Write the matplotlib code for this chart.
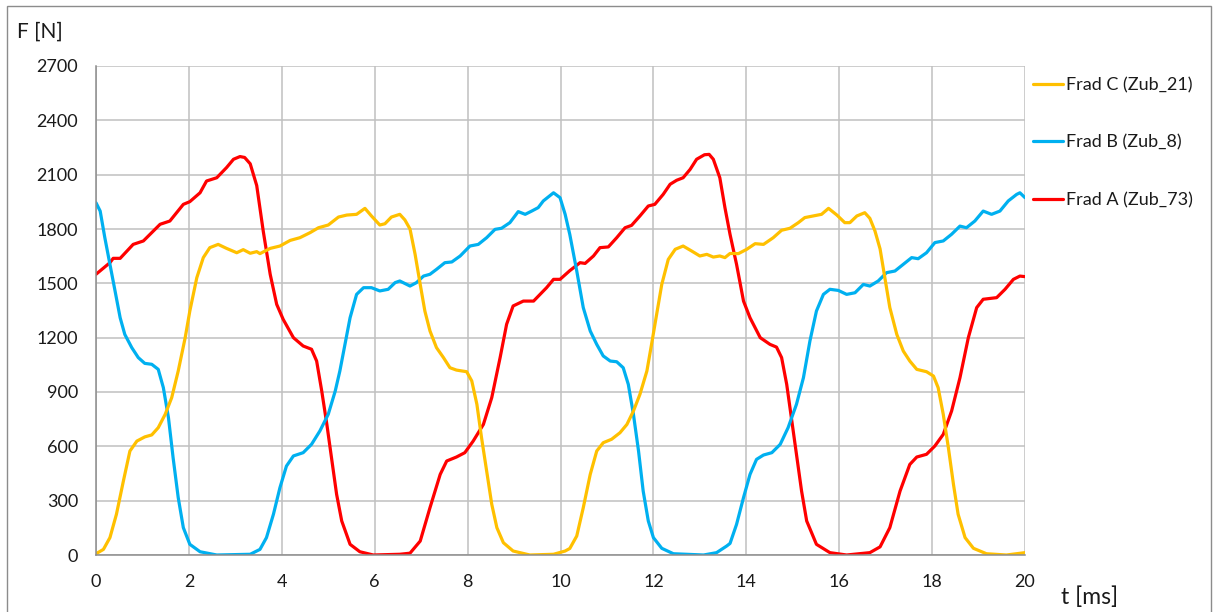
import matplotlib
matplotlib.use("Agg")
import matplotlib.pyplot as plt
from matplotlib.patches import Rectangle

plt.rcParams['font.family'] = ['Lato', 'DejaVu Sans']

# ---- data ----
t_A = [0.0, 0.3, 0.37, 0.52, 0.8, 1.02, 1.38, 1.59, 1.88, 2.02, 2.24, 2.38, 2.6, 2.81, 2.96, 3.1, 3.2,
       3.32, 3.46, 3.6, 3.75, 3.89, 4.03, 4.25, 4.46, 4.64, 4.75, 4.86, 4.97, 5.07, 5.18, 5.29, 5.47,
       5.68, 5.97, 6.54, 6.76, 6.98, 7.19, 7.41, 7.55, 7.76, 7.94, 8.12, 8.34, 8.52, 8.70, 8.84, 8.98,
       9.2, 9.42, 9.56, 9.70, 9.85, 9.99, 10.2, 10.42, 10.53, 10.71, 10.85, 11.03, 11.21, 11.39, 11.53,
       11.71, 11.89, 12.03, 12.21, 12.36, 12.5, 12.64, 12.79, 12.93, 13.1, 13.2, 13.29, 13.43, 13.54,
       13.65, 13.79, 13.94, 14.08, 14.3, 14.51, 14.65, 14.76, 14.87, 14.98, 15.08, 15.19, 15.3, 15.51,
       15.8, 16.16, 16.66, 16.88, 17.09, 17.31, 17.52, 17.67, 17.88, 18.06, 18.24, 18.42, 18.6, 18.78,
       18.96, 19.1, 19.39, 19.57, 19.75, 19.89, 20.0]
F_A = [1550, 1614, 1638, 1638, 1715, 1734, 1826, 1844, 1936, 1951, 2000, 2065, 2083, 2139, 2185, 2200, 2195,
       2160, 2040, 1789, 1550, 1384, 1301, 1200, 1154, 1136, 1071, 905, 721, 537, 335, 188, 59,
       18, 0, 4, 10, 77, 261, 445, 519, 541, 565, 629, 721, 869, 1090, 1274, 1375,
       1402, 1402, 1439, 1476, 1522, 1522, 1570, 1614, 1610, 1651, 1697, 1701, 1752, 1807, 1820,
       1872, 1927, 1936, 1991, 2047, 2069, 2083, 2129, 2185, 2210, 2212, 2185, 2083, 1918,
       1770, 1605, 1402, 1310, 1200, 1163, 1148, 1090, 942, 740, 556, 353, 188, 59,
       13, 0, 13, 45, 151, 353, 500, 541, 556, 602, 666, 795, 979, 1200,
       1366, 1412, 1421, 1467, 1522, 1540, 1537]

t_B = [0.0, 0.09, 0.19, 0.3, 0.41, 0.52, 0.62, 0.77, 0.91, 1.05, 1.2, 1.34, 1.45, 1.56, 1.66, 1.77, 1.88,
       2.02, 2.24, 2.6, 3.32, 3.53, 3.67, 3.82, 3.96, 4.1, 4.25, 4.46, 4.64, 4.82, 5.0, 5.15, 5.25, 5.36,
       5.47, 5.61, 5.76, 5.93, 6.11, 6.29, 6.44, 6.54, 6.69, 6.76, 6.9, 7.05, 7.19, 7.33, 7.51, 7.66,
       7.84, 8.05, 8.23, 8.41, 8.59, 8.73, 8.91, 9.09, 9.24, 9.38, 9.52, 9.63, 9.85, 9.99, 10.1, 10.2,
       10.35, 10.49, 10.64, 10.78, 10.92, 11.07, 11.21, 11.35, 11.46, 11.57, 11.68, 11.78, 11.89, 12.0,
       12.18, 12.43, 13.08, 13.36, 13.58, 13.65, 13.79, 13.94, 14.08, 14.22, 14.37, 14.55, 14.73, 14.9,
       15.08, 15.23, 15.37, 15.51, 15.66, 15.8, 15.98, 16.16, 16.34, 16.52, 16.66, 16.84, 17.02, 17.2,
       17.38, 17.56, 17.7, 17.88, 18.06, 18.24, 18.42, 18.6, 18.74, 18.92, 19.1, 19.28, 19.46, 19.64,
       19.82, 19.89, 20.0]
F_B = [1945, 1899, 1752, 1605, 1458, 1310, 1218, 1145, 1090, 1058, 1053, 1025, 924, 758, 537, 317, 151,
       59, 18, 0, 4, 31, 96, 225, 372, 491, 547, 565, 611, 685, 777, 905, 1016, 1163,
       1310, 1439, 1476, 1476, 1458, 1467, 1504, 1513, 1494, 1485, 1504, 1540, 1550, 1577, 1614, 1618,
       1651, 1706, 1715, 1752, 1798, 1804, 1835, 1896, 1881, 1899, 1918, 1955, 2000, 1973, 1881, 1770,
       1568, 1366, 1237, 1163, 1099, 1071, 1067, 1034, 942, 777, 574, 353, 188, 96,
       37, 7, 0, 13, 50, 64, 169, 317, 445, 528, 552, 565, 611, 703,
       832, 979, 1182, 1347, 1439, 1467, 1461, 1439, 1448, 1494, 1485, 1513, 1559, 1568,
       1605, 1642, 1636, 1669, 1725, 1734, 1771, 1816, 1807, 1844, 1899, 1881, 1899, 1955,
       1991, 2000, 1973]

t_C = [0.0, 0.16, 0.3, 0.44, 0.59, 0.73, 0.88, 1.05, 1.2, 1.34, 1.49, 1.63, 1.77, 1.92, 2.02, 2.17, 2.31,
       2.45, 2.63, 2.81, 3.03, 3.17, 3.32, 3.46, 3.53, 3.75, 3.96, 4.18, 4.39, 4.61, 4.79, 5.0, 5.22,
       5.4, 5.61, 5.79, 5.93, 6.11, 6.22, 6.36, 6.54, 6.65, 6.76, 6.87, 6.98, 7.08, 7.19, 7.33, 7.48,
       7.62, 7.76, 7.98, 8.09, 8.2, 8.30, 8.41, 8.52, 8.63, 8.77, 8.98, 9.34, 9.85, 10.1, 10.2, 10.35,
       10.49, 10.64, 10.78, 10.92, 11.1, 11.28, 11.43, 11.57, 11.71, 11.86, 11.96, 12.07, 12.18, 12.32,
       12.47, 12.64, 12.82, 13.0, 13.15, 13.29, 13.43, 13.54, 13.65, 13.83, 14.01, 14.19, 14.37, 14.58,
       14.76, 14.94, 15.12, 15.26, 15.44, 15.62, 15.77, 15.95, 16.12, 16.23, 16.38, 16.55, 16.66, 16.77,
       16.88, 16.99, 17.09, 17.24, 17.38, 17.52, 17.67, 17.88, 18.03, 18.13, 18.24, 18.35, 18.46, 18.56,
       18.71, 18.89, 19.17, 19.6, 20.0]
F_C = [7, 31, 96, 225, 409, 574, 629, 652, 663, 703, 777, 869, 1016, 1200, 1347, 1531, 1642,
       1697, 1715, 1693, 1669, 1686, 1666, 1675, 1664, 1693, 1706, 1737, 1752, 1780, 1807, 1822, 1866,
       1877, 1881, 1914, 1872, 1822, 1829, 1866, 1881, 1850, 1800, 1660, 1494, 1347, 1237, 1145, 1090,
       1034, 1021, 1012, 961, 832, 648, 464, 280, 151, 68, 22, 0, 4, 22, 36, 105,
       261, 445, 574, 620, 639, 675, 721, 795, 887, 1016, 1163, 1329, 1494, 1632,
       1688, 1706, 1679, 1651, 1660, 1645, 1651, 1642, 1665, 1664, 1688, 1719, 1715, 1752,
       1793, 1804, 1835, 1863, 1872, 1881, 1914, 1877, 1835, 1835, 1872, 1890, 1859, 1789,
       1690, 1520, 1366, 1218, 1126, 1071, 1025, 1012, 988, 924, 777, 593, 390, 225,
       96, 37, 7, 0, 13]

series = [
    ("Frad A (Zub_73)", t_A, F_A, "#FF0000"),
    ("Frad B (Zub_8)", t_B, F_B, "#00B0F0"),
    ("Frad C (Zub_21)", t_C, F_C, "#FFC000"),
]
x_ticks = list(range(0, 21, 2))
y_ticks = list(range(0, 2701, 300))

W, H = 1213, 612
fig = plt.figure(figsize=(W / 100, H / 100), dpi=100)
ax = fig.add_axes([96 / W, 1 - 555 / H, (1025 - 96) / W, (555 - 66) / H])

handles = []
for name, t, F, c in series:
    ln, = ax.plot(t, F, color=c, lw=2.3, solid_capstyle='round', solid_joinstyle='round')
    handles.append(ln)

ax.set_xlim(0, 20)
ax.set_ylim(0, 2700)
ax.set_xticks(x_ticks)
ax.set_yticks(y_ticks)
ax.grid(True, color='#C0C0C0', lw=1.1)
ax.set_axisbelow(True)
for s in ['top', 'right']:
    ax.spines[s].set_visible(False)
for s in ['left', 'bottom']:
    ax.spines[s].set_color('#8C8C8C')
    ax.spines[s].set_linewidth(1.1)
ax.tick_params(length=0, labelsize=13, colors='#1a1a1a')
ax.tick_params(axis='y', pad=13)
ax.tick_params(axis='x', pad=14)

fig.text(17 / W, 1 - 32 / H, "F [N]", fontsize=15, va='center', ha='left', color='#1a1a1a')
fig.text(1061 / W, 1 - 597 / H, "t [ms]", fontsize=16.5, va='center', ha='left', color='#1a1a1a')

leg = fig.legend(handles[::-1], [s[0] for s in series][::-1],
                 loc='upper left', bbox_to_anchor=(1033 / W, 1 - 77 / H),
                 frameon=False, fontsize=13, handlelength=1.65, handletextpad=0.15,
                 labelspacing=2.3, borderaxespad=0, borderpad=0)
for txt in leg.get_texts():
    txt.set_color('#1a1a1a')

fig.patches.append(Rectangle((7 / W, -0.01), (1211 - 7) / W, (1 - 6 / H) + 0.01,
                             transform=fig.transFigure, fill=False, edgecolor='#8C8C8C', lw=1.0))

fig.savefig("out.png", dpi=100)
